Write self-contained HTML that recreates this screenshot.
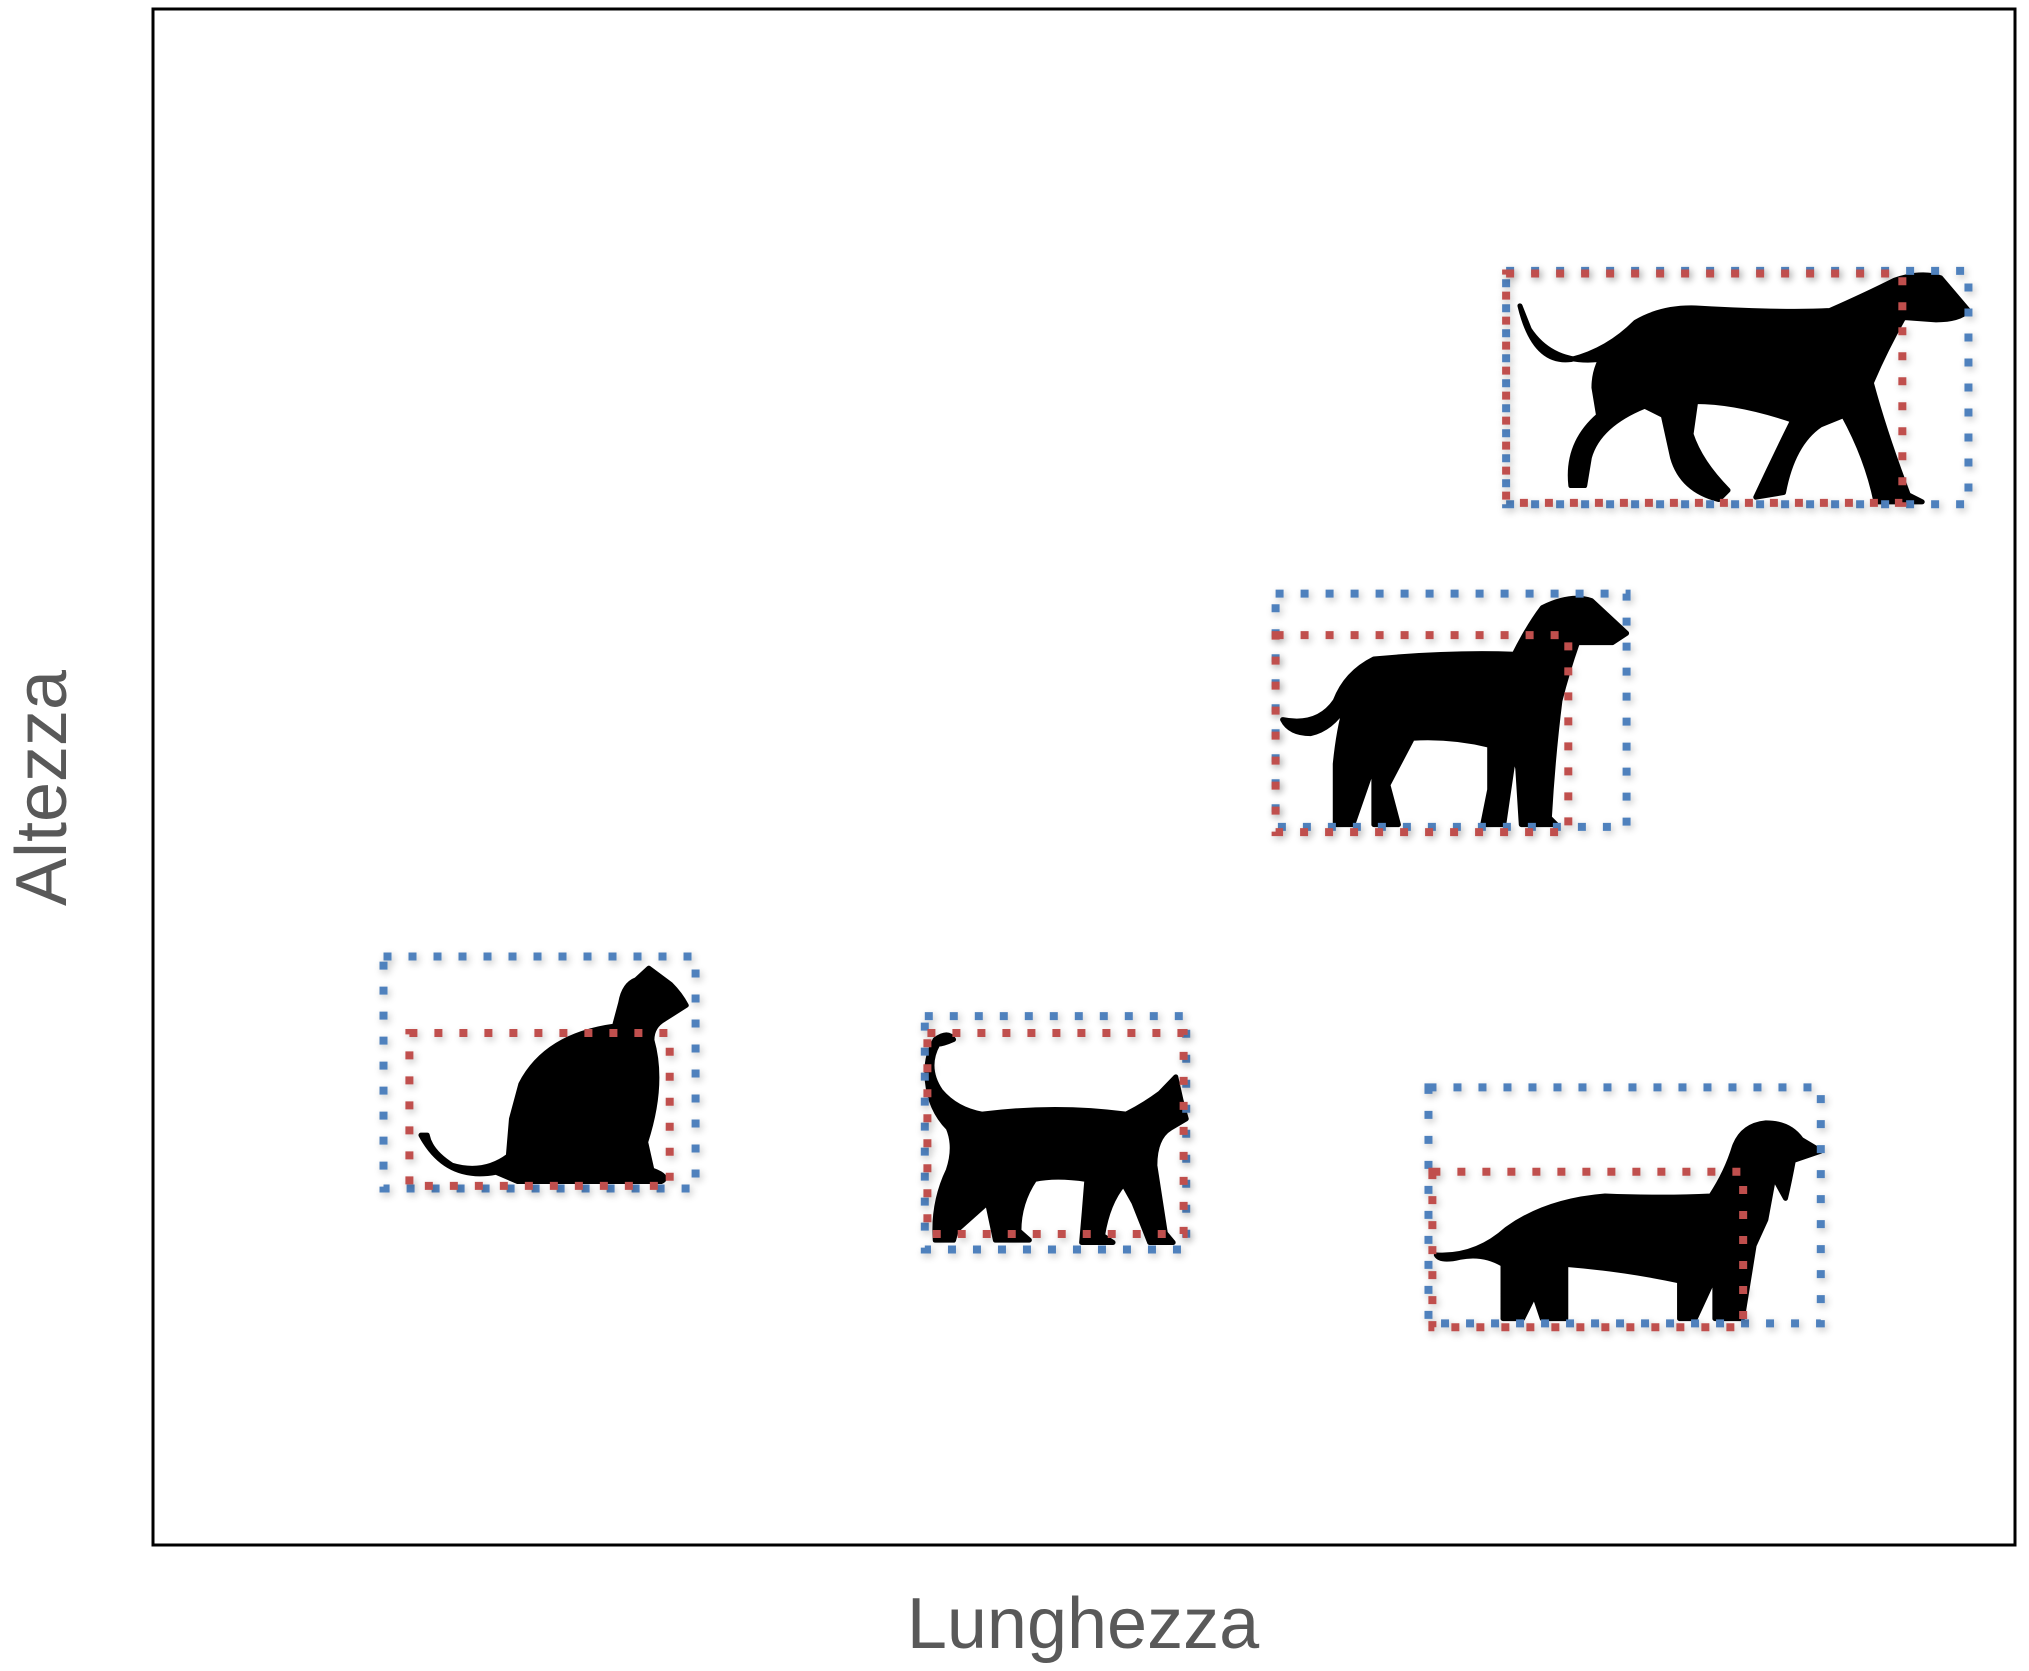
<!DOCTYPE html>
<html><head><meta charset="utf-8"><style>
html,body{margin:0;padding:0;background:#fff;}
svg{display:block;}
</style></head><body>
<svg id="chart" width="2029" height="1671" viewBox="0 0 2029 1671" xmlns="http://www.w3.org/2000/svg">
<defs>
<filter id="sh" x="-10%" y="-10%" width="120%" height="120%">
<feGaussianBlur in="SourceAlpha" stdDeviation="4" result="b"/>
<feOffset dx="2" dy="3" result="o"/>
<feComponentTransfer in="o" result="s"><feFuncA type="linear" slope="0.25"/></feComponentTransfer>
<feMerge><feMergeNode in="s"/><feMergeNode in="SourceGraphic"/></feMerge>
</filter>
</defs>
<rect x="153" y="9" width="1862" height="1536" fill="none" stroke="#000" stroke-width="3"/>
<text x="1083" y="1648" text-anchor="middle" font-family="Liberation Sans, sans-serif" font-size="72" fill="#595959">Lunghezza</text>
<text transform="translate(66,788) rotate(-90)" text-anchor="middle" font-family="Liberation Sans, sans-serif" font-size="72" fill="#595959">Altezza</text>
<g id="marks"></g>
</svg>
<script>
const animals = ["cat-sitting","cat-walking","dog-medium","dog-large","dachshund"];
const blueX0 = [123.8, 414.5, 602.9, 726.7, 685.0];
const blueX1 = [291.4, 554.9, 791.4, 975.0, 895.7];
const blueY0 = [232.1, 192.4, 467.5, 677.6, 144.3];
const blueY1 = [383.1, 344.3, 619.4, 829.5, 297.9];
const redX0 = [137.7, 415.9, 602.9, 726.7, 687.1];
const redX1 = [277.5, 553.5, 760.1, 939.5, 854.0];
const redY0 = [233.8, 202.5, 464.1, 678.5, 141.8];
const redY1 = [333.3, 333.3, 592.4, 827.8, 243.0];

function sx(v){ return 153 + v/1000*1862; }
function sy(v){ return 1545 - v/1000*1536; }

const shapes = {
 "cat-sitting": "M12,77 Q20,97 36,93 L43,97 L89,97 Q92,95 86,92 L84,80 Q90,55 86,36 Q86,30 90,27 L97,21 Q95,16 92,12 Q88,8 85,5 L81,10 Q77,12 76,20 L74,30 Q52,34 44,55 L41,70 L40,86 Q32,94 22,90 Q15,84 14,77 Z",
 "cat-walking": "M5,12 Q0,22 6,32 Q12,40 22,42 Q50,38 77,42 Q84,38 90,33 L96,26 L98,36 L100,44 L94,48 Q88,52 88,64 L92,93 L95,97 L86,97 L80,80 L76,72 Q70,80 68,94 L72,97 L60,97 L61,84 L62,70 Q50,68 42,70 Q36,80 36,92 L40,96 L27,96 L24,80 Q18,86 12,92 L11,96 L4,96 Q3,80 9,66 Q12,56 9,48 Q2,40 1,28 Q0,18 4,10 Q9,6 11,10 Q7,12 5,12 Z",
 "dog-medium": "M2,54 Q12,57 17,46 Q20,34 28,28 Q50,25 68,26 Q72,14 76,6 Q84,0 90,3 L100,17 L96,21 L86,21 Q83,34 81,46 Q79,70 78,96 L80,99 L70,99 L69,75 L68,68 L65,99 L59,99 L61,84 L61,65 Q50,61 39,62 L32,82 L35,99 L28,99 L28,73 L22,99 L17,99 L17,73 Q18,58 20,48 Q16,58 10,60 Q4,60 2,54 Z",
 "dog-large": "M3,15 Q6,40 14,38 Q22,34 28,22 Q34,15 42,16 Q60,18 70,17 Q78,10 84,4 Q90,0 94,3 L100,17 Q98,21 93,21 L86,20 Q82,34 79,48 Q82,70 87,96 L90,99 L80,99 Q78,80 73,62 L68,66 Q62,74 60,95 L54,97 Q58,80 62,64 Q50,56 41,56 L40,70 Q42,82 48,94 L46,98 Q38,94 36,80 L34,62 L30,58 Q20,66 18,80 L17,92 L14,92 Q13,74 20,62 L19,50 Q19,32 30,22 L20,38 Q10,40 5,25 Z",
 "dachshund": "M2,71 Q12,72 20,60 Q30,48 45,46 Q60,47 72,46 Q76,36 78,25 Q80,16 86,15 Q92,15 95,22 L100,27 L93,31 Q92,40 91,47 L88,38 L86,56 L83,67 L80,98 L73,98 L73,80 L68,98 L64,98 L64,82 Q50,77 35,75 L35,98 L29,98 L27,88 L24,98 L19,98 L19,75 Q14,70 8,72 Q3,74 2,71 Z"
};

const marks = document.getElementById('marks');
const NS = "http://www.w3.org/2000/svg";
function addRect(x0,x1,y0,y1,color,name){
  const r = document.createElementNS(NS,'rect');
  r.setAttribute('x', sx(x0)); r.setAttribute('y', sy(y1));
  r.setAttribute('width', sx(x1)-sx(x0)); r.setAttribute('height', sy(y0)-sy(y1));
  r.setAttribute('fill','none'); r.setAttribute('stroke',color);
  r.setAttribute('stroke-width','8'); r.setAttribute('stroke-dasharray','8 17');
  r.setAttribute('filter','url(#sh)');
  
  
  marks.appendChild(r);
}
for (let i=0;i<animals.length;i++){
  const g = document.createElementNS(NS,'g');
  
  
  const bx=sx(blueX0[i]), by=sy(blueY1[i]);
  const bw=sx(blueX1[i])-bx, bh=sy(blueY0[i])-by;
  const p = document.createElementNS(NS,'path');
  p.setAttribute('d', shapes[animals[i]]);
  p.setAttribute('fill','#000');
  p.setAttribute('stroke','#000');
  p.setAttribute('stroke-width','5');
  p.setAttribute('stroke-linejoin','round');
  p.setAttribute('vector-effect','non-scaling-stroke');
  p.setAttribute('transform','translate('+bx+','+by+') scale('+(bw/100)+','+(bh/100)+')');
  
  
  g.appendChild(p);
  marks.appendChild(g);
  addRect(blueX0[i],blueX1[i],blueY0[i],blueY1[i],'#4F81BD',animals[i]+'-outer-box');
  addRect(redX0[i],redX1[i],redY0[i],redY1[i],'#C0504D',animals[i]+'-inner-box');
}
</script>
</body></html>
